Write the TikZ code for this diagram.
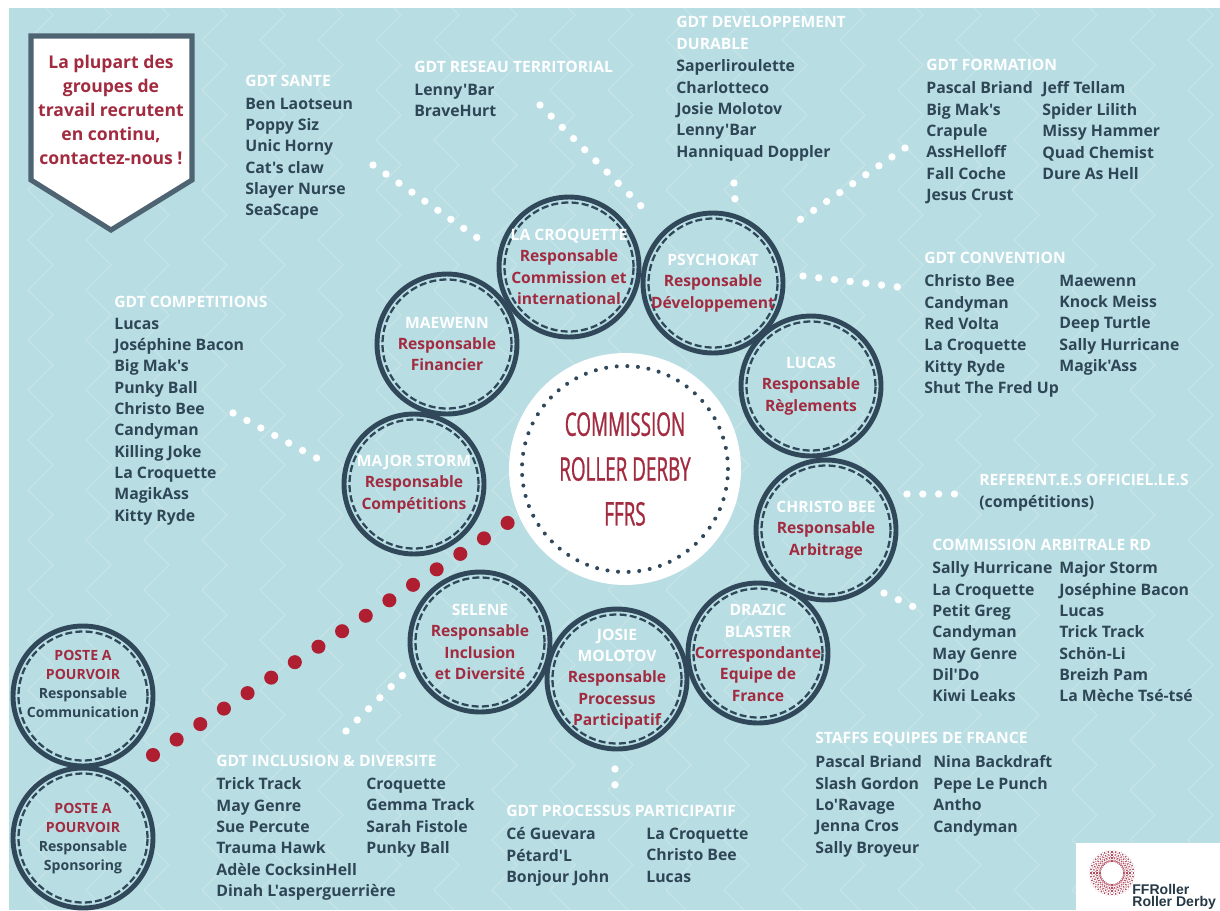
\documentclass[tikz,border=0pt]{standalone}
\usepackage{fontspec}
\setmainfont{Open Sans}
\newfontfamily\gdtfont{Open Sans}
\newfontfamily\titlefont[FakeStretch=0.58,FakeBold=0.8]{Open Sans}
\newfontfamily\logofont{Liberation Sans}
\definecolor{bgblue}{HTML}{B8DDE3}
\definecolor{inkdark}{HTML}{2F4656}
\definecolor{ringdark}{HTML}{30485A}
\definecolor{noticeline}{HTML}{4E6473}
\definecolor{rolered}{HTML}{A22B40}
\definecolor{dotred}{HTML}{B01E32}
\tikzset{
  gdthead/.style={anchor=west,inner sep=0pt,text=white,font=\fontsize{8.9}{12.2}\selectfont\bfseries},
  gdtlist/.style={anchor=north west,inner sep=0pt,align=left,yshift=-2pt,text=inkdark,font=\fontsize{9}{12.15}\gdtfont\bfseries},
  rolering/.style={circle,draw=ringdark,line width=2.8pt,minimum size=2.8cm,inner sep=0pt},
  roledash/.style={circle,draw=ringdark,line width=1.3pt,dash pattern=on 4pt off 1.8pt,minimum size=2.58cm,inner sep=0pt},
  roletext/.style={inner sep=0pt,align=center,text=rolered,font=\fontsize{8.9}{12.15}\selectfont\bfseries},
  whitedots/.style={white,line width=4.2pt,line cap=round,dash pattern=on 0pt off 9pt},
  reddots/.style={dotred,line width=8pt,line cap=round,dash pattern=on 0pt off 16.08pt},
  chevron/.style={white,opacity=.2,line width=.7pt},
}
\newcommand{\who}[1]{\textcolor{white}{#1}}
\newcommand{\rolecircle}[3]{%
  \node[rolering] (#1) at (#2) {};
  \node[roledash] (#1dash) at (#1) {};
  \node[roletext] (#1text) at (#1) {#3};
}
\begin{document}
\begin{tikzpicture}[x=0.02cm,y=-0.02cm]
\useasboundingbox (0,0) rectangle (1220,910);
\clip (0,0) rectangle (1220,910);
\fill[white] (0,0) rectangle (1220,910);
\fill[bgblue] (9,8) rectangle (1220,910);
% background chevrons
\begin{scope}
\clip (9,8) rectangle (1220,910);
\foreach \cx in {-30,28,...,1240} {
  \draw[chevron] (\cx,-10) \foreach \k in {1,...,19} {-- ++(25,25) -- ++(-25,25)};
}
\end{scope}
% notice
\draw[noticeline,line width=2.9pt,fill=white,line join=miter] (31,36) -- (192,36) -- (192,180) -- (111,230) -- (31,180) -- cycle;
\node[inner sep=0pt,align=center,text=rolered,font=\fontsize{10}{13.6}\selectfont\bfseries] (notice) at (111,110) {La plupart des\\groupes de\\travail recrutent\\en continu,\\contactez-nous !};
% centre
\node[circle,fill=white,minimum size=4.64cm,inner sep=0pt] (commission) at (625,469) {};
\node[circle,draw=ringdark,line width=2.3pt,line cap=round,dash pattern=on 0pt off 6.05pt,minimum size=4.12cm,inner sep=0pt] (commissiondots) at (commission) {};
\node[inner sep=0pt,align=center,text=rolered,font=\fontsize{18.5}{25.5}\titlefont] (commissiontext) at (commission) {COMMISSION\\ROLLER DERBY\\FFRS};
% roles
\rolecircle{croquette}{569,267}{\who{LA CROQUETTE}\\Responsable\\Commission et\\international}
\rolecircle{psychokat}{713,283}{\who{PSYCHOKAT}\\Responsable\\Développement}
\rolecircle{maewenn}{447,344}{\who{MAEWENN}\\Responsable\\Financier}
\rolecircle{lucas}{811,386}{\who{LUCAS}\\Responsable\\Règlements}
\rolecircle{storm}{414,484}{\who{MAJOR STORM}\\Responsable\\Compétitions}
\rolecircle{christo}{826,530}{\who{CHRISTO BEE}\\Responsable\\Arbitrage}
\rolecircle{selene}{480,642}{\who{SELENE}\\Responsable\\Inclusion\\et Diversité}
\rolecircle{josie}{617,679}{\who{JOSIE}\\\who{MOLOTOV}\\Responsable\\Processus\\Participatif}
\rolecircle{drazic}{758,653}{\who{DRAZIC}\\\who{BLASTER}\\Correspondante\\Equipe de\\France}
% open posts
\node[rolering] (postecom) at (83,696) {};
\node[roledash] (postecomdash) at (postecom) {};
\node[roletext,font=\fontsize{8}{10.8}\selectfont\bfseries] (postecomtext) at (83,684) {POSTE A\\POURVOIR\\\textcolor{inkdark}{Responsable}\\\textcolor{inkdark}{Communication}};
\node[rolering] (postespo) at (83,838) {};
\node[roledash] (postespodash) at (postespo) {};
\node[roletext,font=\fontsize{8}{10.8}\selectfont\bfseries] (postespotext) at (83,839) {POSTE A\\POURVOIR\\\textcolor{inkdark}{Responsable}\\\textcolor{inkdark}{Sponsoring}};
% dotted links
\coordinate (santeA) at (373,165);
\coordinate (santeB) at (479,239);
\coordinate (reseauA) at (540,105);
\coordinate (reseauB) at (648,213);
\coordinate (durableA) at (734,183);
\coordinate (durableB) at (735,200);
\coordinate (formationA) at (905,148);
\coordinate (formationB) at (798,221);
\coordinate (conventionA) at (803,276);
\coordinate (conventionB) at (898,287);
\coordinate (competA) at (233,413);
\coordinate (competB) at (324,462);
\coordinate (referentA) at (907,494);
\coordinate (referentB) at (957,494);
\coordinate (arbitraleA) at (884,593);
\coordinate (arbitraleB) at (914,607);
\coordinate (inclusionA) at (346,731);
\coordinate (inclusionB) at (405,673);
\coordinate (processusA) at (615,769);
\coordinate (processusB) at (615,786);
\coordinate (redA) at (153,755);
\coordinate (redB) at (509,522);
\draw[whitedots] (santeA) -- (santeB);
\draw[whitedots] (reseauA) -- (reseauB);
\draw[whitedots] (durableA) -- (durableB);
\draw[whitedots] (formationA) -- (formationB);
\draw[whitedots] (conventionA) -- (conventionB);
\draw[whitedots] (competA) -- (competB);
\draw[whitedots] (referentA) -- (referentB);
\draw[whitedots] (arbitraleA) -- (arbitraleB);
\draw[whitedots] (inclusionA) -- (inclusionB);
\draw[whitedots] (processusA) -- (processusB);
\draw[reddots] (redA) -- (redB);
% working groups
\node[gdthead] (santehead) at (245,81) {GDT SANTE};
\node[gdtlist] (santelist) at (245,94) {Ben Laotseun\\Poppy Siz\\Unic Horny\\Cat's claw\\Slayer Nurse\\SeaScape};
\node[gdthead] (reseauhead) at (414,67) {GDT RESEAU TERRITORIAL};
\node[gdtlist] (reseaulist) at (414,80) {Lenny'Bar\\BraveHurt};
\node[gdthead,align=left] (durablehead) at (676,33) {GDT DEVELOPPEMENT\\DURABLE};
\node[gdtlist] (durablelist) at (676,56) {Saperliroulette\\Charlotteco\\Josie Molotov\\Lenny'Bar\\Hanniquad Doppler};
\node[gdthead] (formationhead) at (926,65) {GDT FORMATION};
\node[gdtlist] (formationleft) at (926,78) {Pascal Briand\\Big Mak's\\Crapule\\AssHelloff\\Fall Coche\\Jesus Crust};
\node[gdtlist] (formationright) at (1042,78) {Jeff Tellam\\Spider Lilith\\Missy Hammer\\Quad Chemist\\Dure As Hell};
\node[gdthead] (conventionhead) at (924,258) {GDT CONVENTION};
\node[gdtlist] (conventionleft) at (924,271) {Christo Bee\\Candyman\\Red Volta\\La Croquette\\Kitty Ryde\\Shut The Fred Up};
\node[gdtlist] (conventionright) at (1059,271) {Maewenn\\Knock Meiss\\Deep Turtle\\Sally Hurricane\\Magik'Ass};
\node[gdthead] (compethead) at (114,302) {GDT COMPETITIONS};
\node[gdtlist] (competlist) at (114,314) {Lucas\\Joséphine Bacon\\Big Mak's\\Punky Ball\\Christo Bee\\Candyman\\Killing Joke\\La Croquette\\MagikAss\\Kitty Ryde};
\node[gdthead] (referenthead) at (979,480) {REFERENT.E.S OFFICIEL.LE.S};
\node[gdtlist] (referentlist) at (979,492) {(compétitions)};
\node[gdthead] (arbitralehead) at (932,545) {COMMISSION ARBITRALE RD};
\node[gdtlist] (arbitraleleft) at (932,558) {Sally Hurricane\\La Croquette\\Petit Greg\\Candyman\\May Genre\\Dil'Do\\Kiwi Leaks};
\node[gdtlist] (arbitraleright) at (1059,558) {Major Storm\\Joséphine Bacon\\Lucas\\Trick Track\\Schön-Li\\Breizh Pam\\La Mèche Tsé-tsé};
\node[gdthead] (staffhead) at (815,739) {STAFFS EQUIPES DE FRANCE};
\node[gdtlist] (staffleft) at (815,752) {Pascal Briand\\Slash Gordon\\Lo'Ravage\\Jenna Cros\\Sally Broyeur};
\node[gdtlist] (staffright) at (933,752) {Nina Backdraft\\Pepe Le Punch\\Antho\\Candyman};
\node[gdthead] (inclusionhead) at (216,761) {GDT INCLUSION \& DIVERSITE};
\node[gdtlist] (inclusionleft) at (216,774) {Trick Track\\May Genre\\Sue Percute\\Trauma Hawk\\Adèle CocksinHell\\Dinah L'asperguerrière};
\node[gdtlist] (inclusionright) at (366,774) {Croquette\\Gemma Track\\Sarah Fistole\\Punky Ball};
\node[gdthead] (processushead) at (506,811) {GDT PROCESSUS PARTICIPATIF};
\node[gdtlist] (processusleft) at (506,824) {Cé Guevara\\Pétard'L\\Bonjour John};
\node[gdtlist] (processusright) at (646,824) {La Croquette\\Christo Bee\\Lucas};
% logo
\fill[white] (1076,843) rectangle (1220,910);
\coordinate (sun) at (1112,873);
\foreach \a in {0,10,...,350} {
  \draw[rolered!85,line width=.6pt,dash pattern=on 1pt off .8pt] (sun) ++(\a:11) -- ++(\a:12);
  \draw[rolered!50,line width=.5pt,dash pattern=on 1pt off 1pt] (sun) ++(\a+5:12) -- ++(\a+5:11);
}
\node[anchor=base west,inner sep=0pt,text=inkdark!80!black,font=\fontsize{8}{8}\logofont\bfseries] (logoa) at (1132,894) {FFRoller};
\node[anchor=base west,inner sep=0pt,text=inkdark!80!black,font=\fontsize{8}{8}\logofont\bfseries] (logob) at (1132,906) {Roller Derby};
\end{tikzpicture}
\end{document}
